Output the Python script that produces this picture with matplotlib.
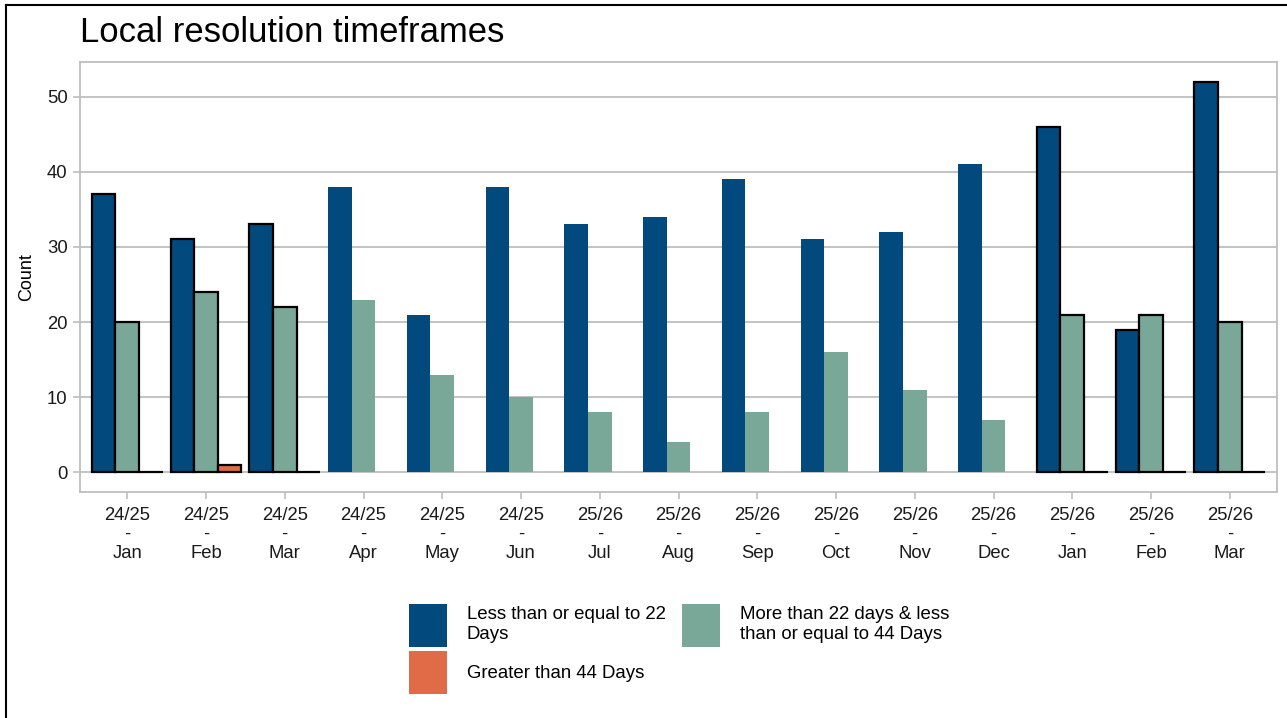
import numpy as np
import matplotlib
matplotlib.use("Agg")
import matplotlib.pyplot as plt
from matplotlib.lines import Line2D
from matplotlib.patches import Patch

plt.rcParams['font.family'] = ['Liberation Sans', 'DejaVu Sans']

# data
years = ['24/25'] * 6 + ['25/26'] * 9
months = ['Jan', 'Feb', 'Mar', 'Apr', 'May', 'Jun', 'Jul', 'Aug', 'Sep',
          'Oct', 'Nov', 'Dec', 'Jan', 'Feb', 'Mar']
less_22 = [37, 31, 33, 38, 21, 38, 33, 34, 39, 31, 32, 41, 46, 19, 52]
between = [20, 24, 22, 23, 13, 10, 8, 4, 8, 16, 11, 7, 21, 21, 20]
greater_44 = [0, 1, 0, np.nan, np.nan, np.nan, np.nan, np.nan, np.nan,
              np.nan, np.nan, np.nan, 0, 0, 0]

c_less = '#02497D'
c_mid = '#7AA898'
c_great = '#E06B47'
grey = '#BEBEBE'

W, H = 1287, 718
fig = plt.figure(figsize=(W / 100, H / 100), dpi=100)
ax = fig.add_axes([80 / W, 1 - 492 / H, (1277 - 80) / W, (492 - 62) / H])

x = np.arange(len(months))
g = np.array(greater_44, dtype=float)
boxed = ~np.isnan(g)
bw = 0.3
edge = ['black' if b else 'none' for b in boxed]
lw = [1.6 if b else 0 for b in boxed]

ax.bar(x - bw, less_22, width=bw, color=c_less, edgecolor=edge, linewidth=lw, zorder=3)
ax.bar(x, between, width=bw, color=c_mid, edgecolor=edge, linewidth=lw, zorder=3)
ax.bar(x[boxed] + bw, g[boxed], width=bw, color=c_great, edgecolor='black',
       linewidth=1.6, zorder=3)

ax.set_xlim(-0.6, len(months) - 0.4)
ax.set_ylim(-2.6, 54.6)
ax.set_yticks([0, 10, 20, 30, 40, 50])
ax.set_xticks(x)
ax.set_xticklabels([f'{y}\n-\n{m}' for y, m in zip(years, months)],
                   linespacing=1.15)
ax.tick_params(axis='both', colors=grey, labelcolor='#1a1a1a', labelsize=13.3,
               length=5, width=1.2)
ax.tick_params(axis='x', pad=6)
ax.tick_params(axis='y', pad=4)
ax.yaxis.grid(True, color=grey, linewidth=1.3, zorder=0)
ax.set_axisbelow(True)
for s in ax.spines.values():
    s.set_color(grey)
    s.set_linewidth(1.3)

fig.text(80 / W, 1 - 42 / H, 'Local resolution timeframes', fontsize=24.9,
         ha='left', va='baseline', color='black')
fig.text(27 / W, 1 - 277 / H, 'Count', rotation=90, fontsize=13,
         ha='center', va='center', color='black')

handles = [Patch(facecolor=c_less), Patch(facecolor=c_great), Patch(facecolor=c_mid)]
labels = ['Less than or equal to 22\nDays', 'Greater than 44 Days',
          'More than 22 days & less\nthan or equal to 44 Days']
fig.legend(handles, labels, loc='center', bbox_to_anchor=(679 / W, 1 - 649 / H),
           ncol=2, frameon=False, fontsize=13.4, handlelength=2.05,
           handleheight=3.18, handletextpad=1.05, labelspacing=0.2,
           columnspacing=0.9, borderpad=0)

# screenshot border (left and top)
fig.add_artist(Line2D([6 / W, 6 / W], [0, 1 - 4.5 / H], transform=fig.transFigure,
                      color='black', linewidth=1.5))
fig.add_artist(Line2D([6 / W, 1], [1 - 4.5 / H, 1 - 4.5 / H], transform=fig.transFigure,
                      color='black', linewidth=1.5))

fig.savefig('out.png', dpi=100)
